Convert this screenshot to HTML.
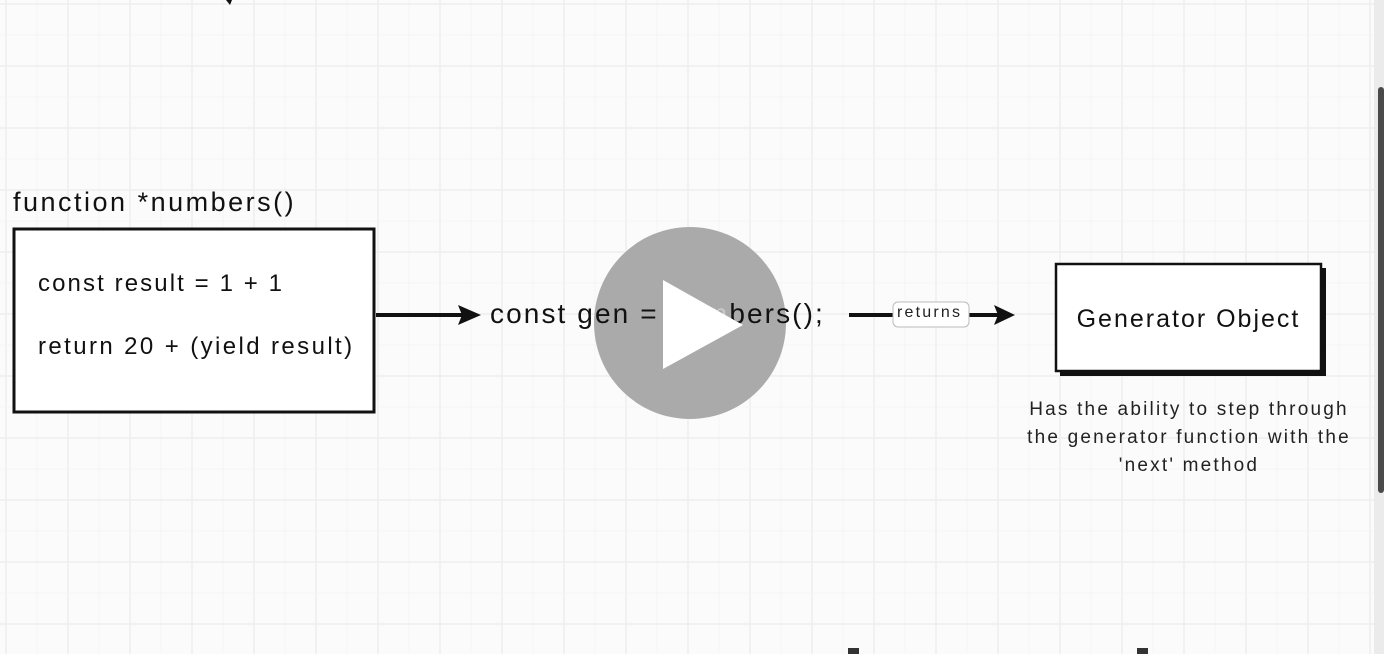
<!DOCTYPE html>
<html><head><meta charset="utf-8">
<style>
html,body{margin:0;padding:0;width:1384px;height:654px;overflow:hidden;background:#fbfbfb;font-family:"Liberation Sans",sans-serif;}
#grid{position:absolute;left:0;top:0}
.t{position:absolute;color:#111;white-space:nowrap;}
</style></head><body>
<svg id="grid" width="1384" height="654">
  <g id="lines"></g>
  <g>
    <rect x="14" y="229" width="360" height="183" fill="#fff" stroke="#111" stroke-width="3"/>
  </g>
  <g>
    <line x1="376" y1="315" x2="462" y2="315" stroke="#111" stroke-width="4"/>
    <polygon points="458,305 481,315 458,325 462,315" fill="#111"/>
  </g>
  <g>
    <line x1="849" y1="315" x2="893" y2="315" stroke="#111" stroke-width="4"/>
    <line x1="969" y1="315" x2="998" y2="315" stroke="#111" stroke-width="4"/>
    <polygon points="994,305 1015,315 994,325 998,315" fill="#111"/>
    <rect x="893" y="302" width="76" height="25" rx="5" fill="#fff" stroke="#bbb" stroke-width="1"/>
  </g>
  <g>
    <rect x="1060" y="268" width="266" height="108" fill="#111"/>
    <rect x="1056" y="264" width="265" height="107" fill="#fff" stroke="#111" stroke-width="2.5"/>
  </g>
  <rect x="1374" y="0" width="10" height="654" fill="#ebebeb"/>
  <rect x="1378" y="87" width="6" height="406" rx="3" fill="#4a4a4a"/>
  <rect x="848" y="648" width="11" height="6" fill="#333"/>
  <rect x="1137" y="648" width="11" height="6" fill="#333"/>
  <polygon points="226,0 232,0 230,5" fill="#111"/>
  <circle cx="690" cy="323" r="96" fill="#aaaaaa"/>
</svg>
<div class="t" style="left:13px;top:187px;font-size:27px;letter-spacing:2.5px">function *numbers()</div>
<div class="t" style="left:38px;top:270px;font-size:24px;letter-spacing:2.1px">const result = 1 + 1</div>
<div class="t" style="left:38px;top:333px;font-size:24px;letter-spacing:2.4px">return 20 + (yield result)</div>
<div class="t" style="left:490px;top:298px;font-size:28px;letter-spacing:2.1px">const gen = <span style="color:#c8c8c8">num</span>bers();</div>
<div class="t" style="left:897px;top:304px;font-size:16px;color:#222;letter-spacing:2.2px">returns</div>
<div class="t" style="left:1056px;top:305px;width:265px;text-align:center;font-size:25px;letter-spacing:2px">Generator Object</div>
<div class="t" style="left:989px;top:396px;width:400px;text-align:center;font-size:19px;line-height:28px;white-space:normal;color:#222;letter-spacing:2.2px">Has the ability to step through<br>the generator function with the<br>'next' method</div>
<svg style="position:absolute;left:0;top:0" width="1384" height="654">
  <polygon points="663,280 743,325 663,369" fill="#fff"/>
</svg>
<script>
const g=document.getElementById('lines');
const ns='http://www.w3.org/2000/svg';
for(let i=0;i<46;i++){
  const x=6+i*31-31;
  const l=document.createElementNS(ns,'line');
  
  
  l.setAttribute('x1',x);l.setAttribute('x2',x);l.setAttribute('y1',0);l.setAttribute('y2',654);
  l.setAttribute('stroke',i%2===1?'#eeeeee':'#f4f4f4');l.setAttribute('stroke-width',i%2===1?1.5:1);
  g.appendChild(l);
}
for(let i=0;i<23;i++){
  const y=4+i*31-31;
  const l=document.createElementNS(ns,'line');
  
  
  l.setAttribute('x1',0);l.setAttribute('x2',1384);l.setAttribute('y1',y);l.setAttribute('y2',y);
  l.setAttribute('stroke',i%2===1?'#eeeeee':'#f4f4f4');l.setAttribute('stroke-width',i%2===1?1.5:1);
  g.appendChild(l);
}
</script>
</body></html>
